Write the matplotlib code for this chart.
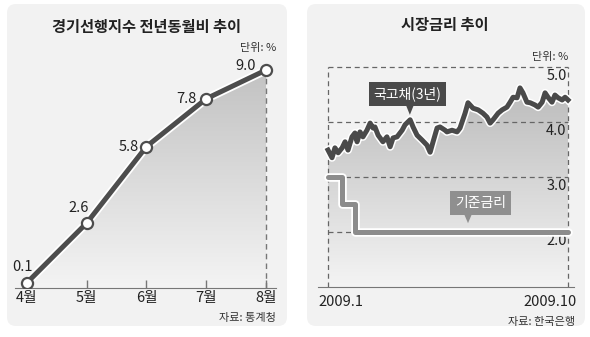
import numpy as np
import matplotlib
matplotlib.use("Agg")
import matplotlib.pyplot as plt
import matplotlib.patheffects as pe
from matplotlib.patches import FancyBboxPatch, Polygon
from matplotlib.colors import LinearSegmentedColormap
from matplotlib.transforms import IdentityTransform

plt.rcParams['font.family'] = ['Noto Sans CJK KR', 'DejaVu Sans']

# 경기선행지수 전년동월비 (%)
months = ['4월', '5월', '6월', '7월', '8월']
lead_idx = [0.1, 2.6, 5.8, 7.8, 9.0]
lead_offsets = [(-3, 11), (-6, 11), (-13, 0), (-14, 0), (-15, 3)]

# 국고채(3년) 금리, t = 월 (1 = 2009.1, 10 = 2009.10)
bond_t = [1.00, 1.15, 1.26, 1.38, 1.53, 1.64, 1.75, 1.90, 2.01, 2.09, 2.20, 2.31,
          2.46, 2.58, 2.69, 2.76, 2.88, 3.06, 3.21, 3.33, 3.44, 3.59, 3.78, 3.89,
          4.08, 4.19, 4.34, 4.53, 4.71, 4.83, 4.94, 5.09, 5.20, 5.39, 5.46, 5.65,
          5.84, 5.95, 6.14, 6.25, 6.44, 6.63, 6.81, 6.96, 7.08, 7.19, 7.38, 7.53,
          7.71, 7.83, 7.94, 8.09, 8.20, 8.31, 8.46, 8.58, 8.76, 8.88, 9.03, 9.14,
          9.25, 9.40, 9.51, 9.63, 9.78, 9.89, 10.00]
bond_rate = [3.49, 3.35, 3.53, 3.44, 3.53, 3.64, 3.49, 3.73, 3.80, 3.64, 3.82, 3.73,
             3.85, 3.98, 3.89, 3.91, 3.76, 3.64, 3.73, 3.55, 3.71, 3.73, 3.85, 3.95,
             4.04, 3.91, 3.76, 3.67, 3.58, 3.45, 3.64, 3.89, 3.91, 3.85, 3.82, 3.85,
             3.82, 3.89, 4.16, 4.35, 4.25, 4.22, 4.16, 4.09, 3.98, 4.04, 4.16, 4.22,
             4.27, 4.36, 4.45, 4.44, 4.62, 4.53, 4.36, 4.35, 4.31, 4.27, 4.36, 4.53,
             4.45, 4.36, 4.49, 4.44, 4.40, 4.45, 4.40]

# 기준금리
base_t = [1.00, 1.53, 2.01, 10.00]
base_rate = [3.0, 2.5, 2.0, 2.0]
grid_levels = [2.0, 3.0, 4.0, 5.0]

W, H = 590, 337
fig = plt.figure(figsize=(W / 100, H / 100), dpi=100)


def px_axes(x0, x1, y0, y1):
    # pixel box (top-left origin) -> axes
    ax = fig.add_axes([x0 / W, 1 - y1 / H, (x1 - x0) / W, (y1 - y0) / H])
    ax.set_zorder(1)
    return ax


def panel(x0, x1, y0, y1):
    box = FancyBboxPatch((x0, H - y1), x1 - x0, y1 - y0,
                         boxstyle="round,pad=0,rounding_size=9",
                         transform=IdentityTransform(), fc='#f2f2f2', ec='none', zorder=-1)
    fig.patches.append(box)


def gradient_under(ax, x, y, y0, top, bottom, c_top, c_bottom):
    poly = ax.fill_between(x, y, y0, color='none', lw=0)
    cmap = LinearSegmentedColormap.from_list('fade', [c_bottom, c_top])
    grad = np.linspace(0, 1, 256).reshape(-1, 1)
    im = ax.imshow(grad, cmap=cmap, aspect='auto', origin='lower',
                   extent=[min(x), max(x), bottom, top], zorder=1)
    im.set_clip_path(poly.get_paths()[0], transform=ax.transData)


def callout(ax, xc, yc, h, tip_x, tip_y, text, color):
    ax.text(xc, yc, text, ha='center', va='center', color='white', fontsize=10,
            zorder=6, bbox=dict(boxstyle='square,pad=0.35', fc=color, ec='none'))
    tri = Polygon([[tip_x - 0.15, yc - h], [tip_x + 0.15, yc - h], [tip_x, tip_y]],
                  closed=True, fc=color, ec='none', zorder=6)
    ax.add_patch(tri)


outline = [pe.Stroke(linewidth=6.2, foreground='white'), pe.Normal()]

# ---------- 왼쪽: 경기선행지수 ----------
panel(7, 287, 4, 326)
fig.text(146 / W, 1 - 27 / H, '경기선행지수 전년동월비 추이', ha='center', va='center',
         fontsize=11, fontweight='bold', color='#222222')
fig.text(276 / W, 1 - 48 / H, '단위: %', ha='right', va='center', fontsize=8, color='#333333')
fig.text(276 / W, 1 - 318 / H, '자료: 통계청', ha='right', va='center', fontsize=8, color='#333333')

ax1 = px_axes(15, 276, 60, 288)
ax1.set_facecolor('none')
xs = np.arange(len(months))
gradient_under(ax1, xs, lead_idx, -0.12, 9.0, -0.12, '#c2c2c2', '#f4f4f4')
ax1.plot([xs[-1], xs[-1]], [-0.12, lead_idx[-1]], ls=(0, (4, 3)), color='#777777', lw=1, zorder=2)
ax1.plot(xs, lead_idx, color='#4d4d4d', lw=3.6, zorder=4, solid_capstyle='round',
         path_effects=outline)
ax1.plot(xs, lead_idx, 'o', ms=8, mfc='white', mec='#4d4d4d', mew=1.6, zorder=5)
for xi, v, off in zip(xs, lead_idx, lead_offsets):
    ax1.annotate(f'{v:.1f}', (xi, v), xytext=off, textcoords='offset points',
                 ha='center', va='center', fontsize=10.5, color='#222222', zorder=6)
ax1.set_xlim(-0.2, 4.167)
ax1.set_ylim(-0.12, 9.42)
ax1.set_xticks(xs, months, fontsize=10.5, color='#222222')
ax1.tick_params(axis='x', direction='in', length=6, width=1, color='#777777', pad=2)
ax1.set_yticks([])
for s in ['left', 'right', 'top']:
    ax1.spines[s].set_visible(False)
ax1.spines['bottom'].set_color('#777777')

# ---------- 오른쪽: 시장금리 ----------
panel(307, 585, 4, 326)
fig.text(445 / W, 1 - 25 / H, '시장금리 추이', ha='center', va='center',
         fontsize=11, fontweight='bold', color='#222222')
fig.text(568 / W, 1 - 57 / H, '단위: %', ha='right', va='center', fontsize=8, color='#333333')
fig.text(575 / W, 1 - 322 / H, '자료: 한국은행', ha='right', va='center', fontsize=8, color='#333333')

ax2 = px_axes(318, 574, 60, 287)
ax2.set_facecolor('none')
gradient_under(ax2, bond_t, bond_rate, 1.0, 4.6, 1.0, '#bcbcbc', '#f4f4f4')
for g in grid_levels:
    ax2.plot([1, 10], [g, g], ls=(0, (4, 3)), color='#666666', lw=0.9, zorder=2)
    ax2.text(9.95, g - 0.04, f'{g:.1f}', ha='right', va='top', fontsize=10.5,
             color='#222222', zorder=3)
for xv in [1, 10]:
    ax2.plot([xv, xv], [1.0, 5.0], ls=(0, (4, 3)), color='#666666', lw=0.9, zorder=2)

ax2.plot(base_t, base_rate, drawstyle='steps-post', color='#8c8c8c', lw=3.6, zorder=4,
         solid_capstyle='round', solid_joinstyle='round', path_effects=outline)
ax2.plot(bond_t, bond_rate, color='#4a4a4a', lw=3.6, zorder=5, solid_joinstyle='round',
         path_effects=[pe.Stroke(linewidth=5.8, foreground='white'), pe.Normal()])

callout(ax2, 3.98, 4.51, 0.2, 4.07, 4.13, '국고채(3년)', '#4a4a4a')
callout(ax2, 6.72, 2.53, 0.2, 6.25, 2.16, '기준금리', '#8f8f8f')

ax2.set_xlim(0.625, 10.225)
ax2.set_ylim(1.0, 5.127)
ax2.set_xticks([])
ax2.set_yticks([])
for s in ['left', 'right', 'top']:
    ax2.spines[s].set_visible(False)
ax2.spines['bottom'].set_color('#777777')
ax2.text(0.0, -0.035, '2009.1', transform=ax2.transAxes, ha='left', va='top',
         fontsize=10.5, color='#222222')
ax2.text(1.01, -0.035, '2009.10', transform=ax2.transAxes, ha='right', va='top',
         fontsize=10.5, color='#222222')

fig.savefig('out.png', dpi=100, facecolor='white')
